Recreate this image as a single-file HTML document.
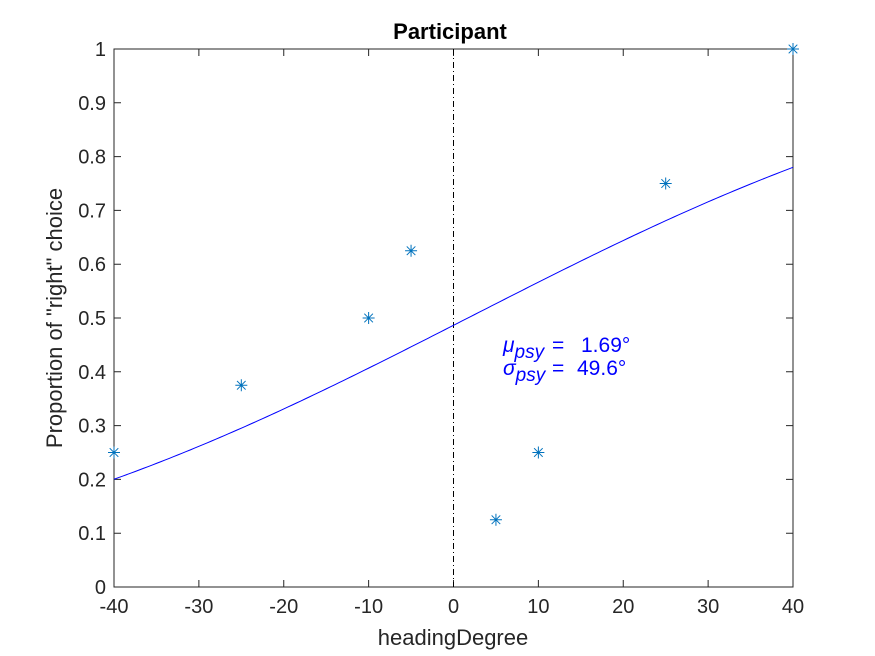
<!DOCTYPE html>
<html><head><meta charset="utf-8"><style>
body{margin:0;background:#fff}
svg{display:block;font-family:"Liberation Sans",sans-serif}
</style></head><body>
<svg id="c" width="875" height="656"></svg>
<script>
const xTicks=[-40,-30,-20,-10,0,10,20,30,40];
const yTicks=[0,0.1,0.2,0.3,0.4,0.5,0.6,0.7,0.8,0.9,1];
const yTickLabels=["0","0.1","0.2","0.3","0.4","0.5","0.6","0.7","0.8","0.9","1"];
const headings=[-40,-25,-10,-5,5,10,25,40];
const propRight=[0.25,0.375,0.5,0.625,0.125,0.25,0.75,1];
const fitMu=[1.69];
const fitSigma=[49.6];
const L=114,R=793,T=49,B=587;
const sx=v=>L+(v+40)/80*(R-L);
const sy=v=>B-v*(B-T);
const NS="http://www.w3.org/2000/svg";
const svg=document.getElementById('c');
function mk(t,a,txt){const e=document.createElementNS(NS,t);for(const k in a)e.setAttribute(k,a[k]);if(txt!=null)e.textContent=txt;svg.appendChild(e);return e;}
function erf(x){const s=Math.sign(x);x=Math.abs(x);const t=1/(1+0.3275911*x);const y=1-(((((1.061405429*t-1.453152027)*t)+1.421413741)*t-0.284496736)*t+0.254829592)*t*Math.exp(-x*x);return s*y;}
let e;
e=mk('rect',{x:L,y:T,width:R-L,height:B-T,fill:'#fff',stroke:'#262626','stroke-width':1});

xTicks.forEach(v=>{
 e=mk('path',{d:`M${sx(v)},${B}v-7M${sx(v)},${T}v7`,stroke:'#262626'});
 
 e=mk('text',{x:sx(v),y:B+26,'text-anchor':'middle','font-size':20,fill:'#262626'},String(v));
 
});
yTicks.forEach((v,i)=>{
 e=mk('path',{d:`M${L},${sy(v)}h7M${R},${sy(v)}h-7`,stroke:'#262626'});
 
 e=mk('text',{x:L-8,y:sy(v)+7,'text-anchor':'end','font-size':20,fill:'#262626'},yTickLabels[i]);
 
});
e=mk('line',{x1:sx(0),x2:sx(0),y1:T,y2:B,stroke:'#000','stroke-dasharray':'6 3 1 3'});

let d='';
for(let i=0;i<=160;i++){const x=-40+i*0.5;const p=0.5*(1+erf((x-fitMu[0])/(fitSigma[0]*Math.SQRT2)));d+=(i?'L':'M')+sx(x).toFixed(2)+','+sy(p).toFixed(2);}
e=mk('path',{d,fill:'none',stroke:'#0000ff','stroke-width':1});

headings.forEach((h,i)=>{
 const x=sx(h),y=sy(propRight[i]),r=6;
 e=mk('path',{d:`M${x-r},${y}h${2*r}M${x},${y-r}v${2*r}M${x-4.3},${y-4.3}l8.6,8.6M${x-4.3},${y+4.3}l8.6,-8.6`,stroke:'#0072bd','stroke-width':1});
 
});
e=mk('text',{x:450,y:39,'text-anchor':'middle','font-size':22,'font-weight':'bold',fill:'#000'},'Participant');

e=mk('text',{x:453,y:645,'text-anchor':'middle','font-size':22,fill:'#262626'},'headingDegree');

e=mk('text',{x:0,y:0,'text-anchor':'middle','font-size':22,fill:'#262626',transform:`translate(62,${(T+B)/2}) rotate(-90)`},'Proportion of "right" choice');

e=mk('text',{x:503,y:352,'font-size':21,fill:'#0000ff'});
e.innerHTML='<tspan font-style="italic">μ</tspan><tspan font-style="italic" font-size="19" dy="6">psy</tspan><tspan dy="-6" x="552">=</tspan><tspan x="581">1.69°</tspan>';

e=mk('text',{x:503,y:375,'font-size':21,fill:'#0000ff'});
e.innerHTML='<tspan font-style="italic">σ</tspan><tspan font-style="italic" font-size="19" dy="6">psy</tspan><tspan dy="-6" x="552">=</tspan><tspan x="577">49.6°</tspan>';

</script>
</body></html>
